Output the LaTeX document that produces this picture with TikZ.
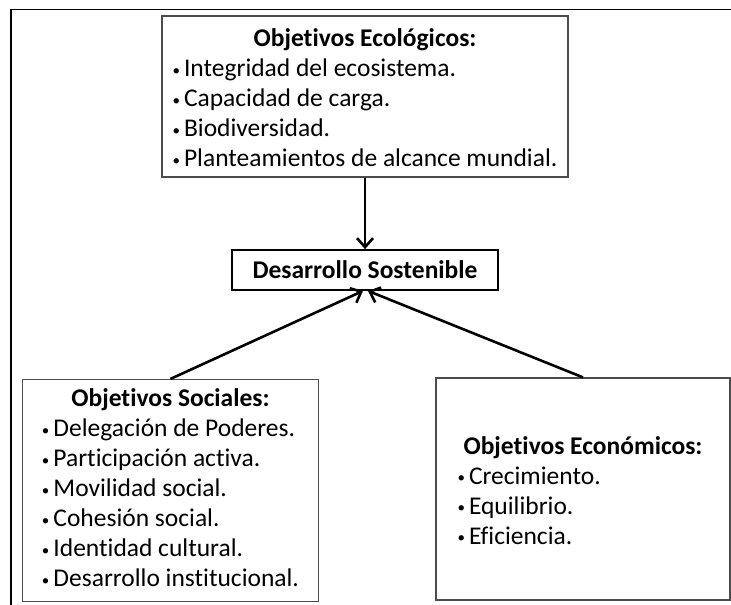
\documentclass[tikz,border=0pt]{standalone}
\usepackage{fontspec}
\setmainfont{Carlito}[Ligatures=NoCommon]
\usetikzlibrary{arrows.meta}

\newcommand{\punto}{\raisebox{1.5pt}{\fontsize{15}{15}\selectfont\textbullet}\hspace{4pt}}

\begin{document}
\begin{tikzpicture}[x=1pt,y=-1pt,
    caja/.style={draw=black!70,line width=1.2pt,inner sep=0pt,
      font=\fontsize{25.5}{30}\selectfont},
    central/.style={draw=black,line width=1.8pt,inner sep=0pt,
      minimum width=266pt,minimum height=40pt,
      font=\fontsize{25.5}{30}\selectfont\bfseries},
    flecha/.style={line width=2.6pt,-{Straight Barb[length=9pt,width=16pt]}}]
  \useasboundingbox (0,0) rectangle (731,605);
  % marco exterior
  \draw[line width=1.5pt] (11,605) -- (11,9.5) -- (731,9.5);

  \node[caja,minimum width=406pt,minimum height=161pt] (eco) at (365,96.5)
    {\begin{tabular}{@{}l@{}}
      \multicolumn{1}{c}{\bfseries Objetivos Ecológicos:}\\
      \punto Integridad del ecosistema.\\
      \punto Capacidad de carga.\\
      \punto Biodiversidad.\\
      \punto Planteamientos de alcance mundial.\\[-8pt]
    \end{tabular}};
  \node[central] (ds) at (365,270) {Desarrollo Sostenible};
  \node[caja,minimum width=296pt,minimum height=222pt] (soc) at (170.5,490.5)
    {\begin{tabular}{@{}l@{}}
      \multicolumn{1}{c}{\bfseries Objetivos Sociales:}\\
      \punto Delegación de Poderes.\\
      \punto Participación activa.\\
      \punto Movilidad social.\\
      \punto Cohesión social.\\
      \punto Identidad cultural.\\
      \punto Desarrollo institucional.
    \end{tabular}};
  \node[caja,minimum width=294pt,minimum height=222pt] (econ) at (583,489)
    {\begin{tabular}{@{}l@{}}
      \multicolumn{1}{c}{\bfseries Objetivos Económicos:}\\
      \punto Crecimiento.\\
      \punto Equilibrio.\\
      \punto Eficiencia.\\[-8pt]
    \end{tabular}};

  \draw[flecha] (eco.south) -- (ds.north);
  \draw[flecha] (soc.north) -- ([xshift=-2pt]ds.south);
  \draw[flecha] (econ.north) -- ([xshift=3pt]ds.south);
\end{tikzpicture}
\end{document}
